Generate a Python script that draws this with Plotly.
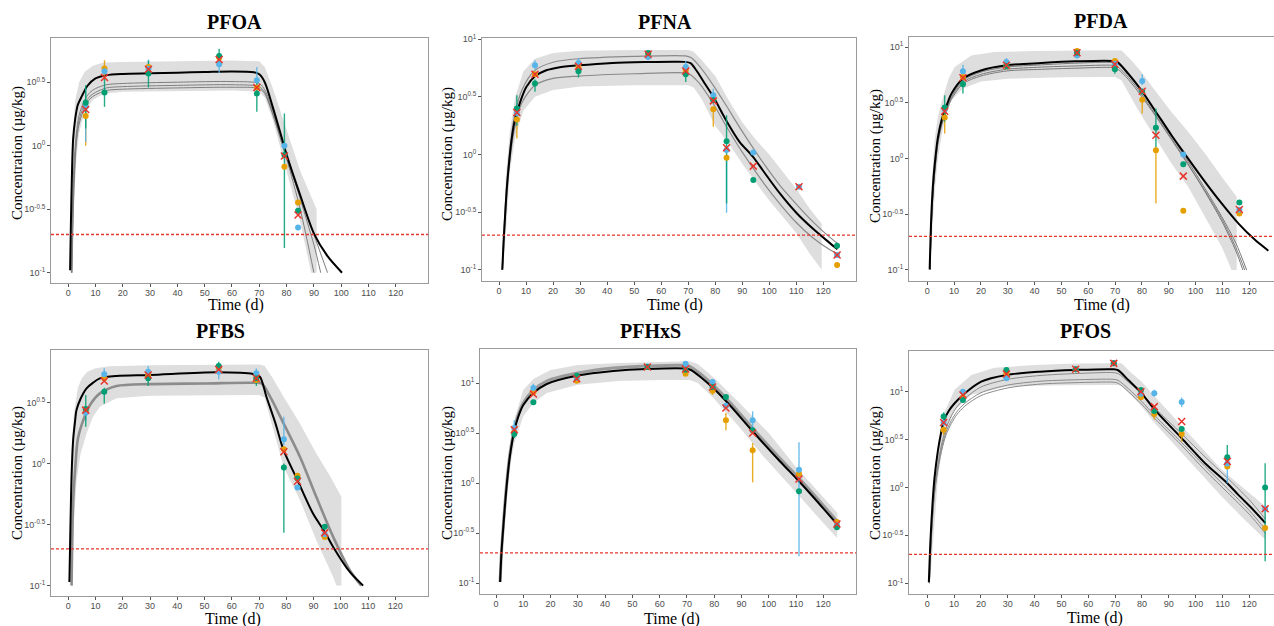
import plotly.graph_objects as go

# ---------------- shared data ----------------
LOQ = 0.2                       # limit of quantification, µg/kg
X_TICKS = list(range(0, 121, 10))
ORANGE, BLUE, GREEN, RED = "#E69F00", "#56B4E9", "#009E73", "#E8352B"
COLORS = {"o": ORANGE, "b": BLUE, "g": GREEN}
NAMES = ["PFOA", "PFNA", "PFDA", "PFBS", "PFHxS", "PFOS"]
# all concentrations below are log10(µg/kg)

# ---------------- PFOA ----------------
PFOA_BLACK_T = [0.7, 1.0, 1.4, 1.8, 2.5, 3.5, 5, 7, 10, 14, 20, 30, 40, 50, 60, 68, 70, 72, 75, 78, 80, 85, 90, 95, 100.3]
PFOA_BLACK = [-0.98, -0.6, -0.2, 0.05, 0.2, 0.32, 0.39, 0.47, 0.53, 0.555, 0.565, 0.57, 0.575, 0.58, 0.585, 0.578, 0.562, 0.5, 0.3, 0.08, -0.07, -0.39, -0.69, -0.87, -1.0]
PFOA_G1_T = [1.2, 1.6, 2, 3, 4, 6, 8, 10, 14, 20, 40, 60, 70, 72, 75, 80, 85, 90]
PFOA_G1 = [-1.0, -0.5, -0.2, 0.1, 0.24, 0.36, 0.42, 0.45, 0.48, 0.49, 0.5, 0.505, 0.49, 0.44, 0.27, -0.1, -0.5, -1.0]
PFOA_G2_T = [1.3, 1.7, 2.1, 3, 4, 6, 8, 10, 14, 20, 40, 60, 70, 72, 75, 80, 85, 90, 92.5]
PFOA_G2 = [-1.0, -0.55, -0.25, 0.06, 0.2, 0.33, 0.39, 0.42, 0.455, 0.465, 0.475, 0.48, 0.465, 0.42, 0.25, -0.08, -0.42, -0.78, -1.0]
PFOA_G3_T = [1.4, 1.8, 2.2, 3, 4, 6, 8, 10, 14, 20, 40, 60, 70, 72, 75, 80, 85, 90, 95]
PFOA_G3 = [-1.0, -0.58, -0.3, 0.02, 0.17, 0.3, 0.37, 0.4, 0.435, 0.445, 0.455, 0.46, 0.45, 0.41, 0.24, -0.1, -0.4, -0.7, -1.0]
PFOA_UP_T = [0.8, 1.5, 2.5, 4, 6, 9, 13, 20, 40, 60, 70, 72, 75, 80, 85, 91]
PFOA_UP = [-1.0, 0.0, 0.35, 0.5, 0.58, 0.63, 0.655, 0.66, 0.665, 0.67, 0.665, 0.62, 0.45, 0.12, -0.2, -0.5]
PFOA_LO_T = [1.5, 2.0, 3, 4, 6, 9, 13, 20, 40, 60, 70, 72, 75, 80, 85, 89, 91]
PFOA_LO = [-1.0, -0.5, -0.1, 0.1, 0.27, 0.36, 0.41, 0.425, 0.43, 0.435, 0.425, 0.38, 0.2, -0.2, -0.6, -1.0, -1.0]
PFOA_DAYS = [6.4, 13.3, 29.4, 55.3, 69.1, 79.2, 84.2]
PFOA_ORANGE = [0.233, 0.607, 0.62, 0.694, 0.458, -0.165, -0.448]
PFOA_BLUE = [0.306, 0.586, 0.605, 0.641, 0.516, 0.0, -0.644]
PFOA_GREEN = [0.338, 0.419, 0.568, 0.707, 0.411, -0.073, -0.513]
PFOA_MEAN = [0.285, 0.537, 0.602, 0.678, 0.458, -0.081, -0.545]
PFOA_BARS = [(6.4, "b", 0.03, 0.45), (6.4, "o", 0.0, 0.4), (6.4, "g", 0.136, 0.476),
             (13.3, "o", 0.55, 0.673), (13.3, "g", 0.306, 0.53),
             (29.4, "b", 0.55, 0.678), (29.4, "g", 0.458, 0.67),
             (55.3, "b", 0.573, 0.70), (55.3, "g", 0.65, 0.764),
             (69.1, "b", 0.43, 0.62), (69.1, "g", 0.267, 0.5),
             (79.2, "g", -0.806, 0.254)]

# ---------------- PFNA ----------------
PFNA_BLACK_T = [1.2, 1.7, 2.2, 2.8, 3.6, 4.6, 5.6, 6.7, 8.5, 10.1, 13.3, 17.5, 22, 29.4, 42, 55, 65, 69, 71, 73, 76, 79.3, 84.2, 89, 94, 98, 104, 110, 116, 122, 125.2]
PFNA_BLACK = [-1.0, -0.75, -0.55, -0.32, -0.1, 0.12, 0.27, 0.37, 0.5, 0.586, 0.678, 0.73, 0.755, 0.773, 0.794, 0.802, 0.805, 0.803, 0.79, 0.73, 0.62, 0.5, 0.29, 0.11, -0.02, -0.15, -0.34, -0.505, -0.64, -0.76, -0.822]
PFNA_G1_T = [1.2, 2.2, 3.6, 5.6, 8.5, 13.3, 20, 29.4, 50, 69, 71, 74, 79.3, 84.2, 90, 98, 104, 110, 116, 122, 125.2]
PFNA_G1 = [-1.0, -0.5, -0.05, 0.32, 0.56, 0.73, 0.8, 0.83, 0.85, 0.855, 0.84, 0.77, 0.6, 0.42, 0.2, -0.08, -0.27, -0.43, -0.58, -0.71, -0.77]
PFNA_G2_T = [1.3, 2.3, 3.7, 5.7, 8.5, 13.3, 20, 29.4, 50, 69, 71, 74, 79.3, 84.2, 90, 98, 104, 110, 116, 122, 125.2]
PFNA_G2 = [-1.0, -0.55, -0.12, 0.22, 0.45, 0.6, 0.66, 0.68, 0.7, 0.707, 0.69, 0.62, 0.44, 0.24, 0.02, -0.25, -0.43, -0.59, -0.72, -0.82, -0.86]
PFNA_UP_T = [1.2, 2.5, 4, 6, 9, 13.3, 20, 30, 50, 70, 72, 75, 80, 85, 90, 95, 100, 105, 110, 115, 119.4]
PFNA_UP = [-0.95, -0.2, 0.2, 0.5, 0.72, 0.83, 0.88, 0.9, 0.905, 0.905, 0.89, 0.82, 0.68, 0.47, 0.28, 0.13, 0.0, -0.15, -0.3, -0.47, -0.6]
PFNA_LO_T = [1.5, 2.5, 4, 6, 9, 13.3, 20, 30, 50, 70, 72, 75, 80, 85, 90, 95, 100, 105, 110, 115, 119.4]
PFNA_LO = [-1.0, -0.7, -0.15, 0.15, 0.38, 0.5, 0.56, 0.59, 0.6, 0.6, 0.58, 0.48, 0.25, 0.095, -0.08, -0.24, -0.4, -0.54, -0.68, -0.86, -1.0]
PFNA_DAYS = [6.6, 13.3, 29.4, 55.2, 69.1, 79.3, 84.2, 94.1, 111.0, 125.1]
PFNA_ORANGE = [0.303, 0.696, 0.765, 0.865, 0.73, 0.392, -0.029, None, None, -0.958]
PFNA_BLUE = [0.36, 0.773, 0.794, 0.846, 0.759, 0.514, 0.038, 0.017, -0.28, -0.872]
PFNA_GREEN = [0.398, 0.615, 0.722, 0.88, 0.696, 0.47, 0.115, -0.222, None, -0.791]
PFNA_MEAN = [0.364, 0.696, 0.765, 0.869, 0.724, 0.465, 0.058, -0.101, -0.28, -0.872]
PFNA_BARS = [(6.6, "g", 0.25, 0.514), (6.6, "o", 0.139, 0.32),
             (13.3, "b", 0.74, 0.817), (13.3, "g", 0.543, 0.65),
             (29.4, "b", 0.77, 0.837), (29.4, "g", 0.667, 0.75),
             (55.2, "g", 0.85, 0.9),
             (69.1, "b", 0.74, 0.81), (69.1, "g", 0.629, 0.72),
             (79.3, "o", 0.24, 0.4), (79.3, "b", 0.5, 0.57),
             (84.2, "b", -0.505, 0.0), (84.2, "g", -0.424, 0.34)]

# ---------------- PFDA ----------------
PFDA_BLACK_T = [0.9, 1.5, 2.1, 2.7, 4.0, 5.5, 6.5, 9, 13.3, 20, 29.5, 42.5, 55, 69.3, 71.1, 74.9, 79.8, 84.8, 91, 95.4, 103.5, 109.7, 115.9, 122.1, 127.1]
PFDA_BLACK = [-0.994, -0.52, -0.25, -0.07, 0.194, 0.358, 0.427, 0.582, 0.716, 0.79, 0.836, 0.857, 0.872, 0.875, 0.86, 0.761, 0.612, 0.433, 0.209, 0.06, -0.209, -0.403, -0.582, -0.73, -0.827]
PFDA_G1_T = [1.0, 1.6, 2.2, 2.8, 4, 5.5, 6.5, 9, 13.3, 20, 29.5, 42.5, 55, 69.3, 71.1, 74.9, 79.8, 84.8, 91, 95.4, 103.5, 109.7, 115, 119]
PFDA_G1 = [-1.0, -0.55, -0.28, -0.1, 0.17, 0.34, 0.41, 0.56, 0.7, 0.775, 0.82, 0.84, 0.855, 0.86, 0.845, 0.75, 0.6, 0.42, 0.2, 0.04, -0.27, -0.52, -0.76, -1.0]
PFDA_G2_T = [1.0, 1.6, 2.2, 2.8, 4, 5.5, 6.5, 9, 13.3, 20, 29.5, 42.5, 55, 69.3, 71.1, 74.9, 79.8, 84.8, 91, 95.4, 103.5, 109.7, 115, 118.3]
PFDA_G2 = [-1.0, -0.58, -0.3, -0.13, 0.14, 0.31, 0.38, 0.53, 0.67, 0.74, 0.785, 0.8, 0.81, 0.815, 0.8, 0.71, 0.56, 0.39, 0.17, 0.01, -0.29, -0.54, -0.8, -1.0]
PFDA_G3_T = [1.0, 1.6, 2.2, 2.8, 4, 5.5, 6.5, 9, 13.3, 20, 29.5, 42.5, 55, 69.3, 71.1, 74.9, 79.8, 84.8, 91, 95.4, 103.5, 109.7, 115, 117.6]
PFDA_G3 = [-1.0, -0.57, -0.29, -0.12, 0.15, 0.32, 0.39, 0.545, 0.685, 0.755, 0.8, 0.82, 0.83, 0.835, 0.82, 0.73, 0.58, 0.4, 0.18, 0.02, -0.3, -0.56, -0.83, -1.0]
PFDA_UP_T = [0.8, 1.5, 2.7, 4, 5.5, 8, 10.2, 16.4, 25, 40, 60, 72.4, 76.1, 79.8, 84.8, 91, 97.2, 103.5, 109.7, 115.3]
PFDA_UP = [-0.99, -0.3, 0.164, 0.38, 0.52, 0.72, 0.82, 0.925, 0.955, 0.965, 0.97, 0.97, 0.88, 0.776, 0.612, 0.418, 0.24, 0.045, -0.164, -0.343]
PFDA_LO_T = [1.2, 2.0, 3, 4, 5.5, 7, 9, 13.3, 20, 30, 50, 70, 72.4, 78.6, 84.8, 91, 97.2, 103.5, 109.7, 113.4, 115.3]
PFDA_LO = [-1.0, -0.6, -0.25, 0.0, 0.224, 0.4, 0.522, 0.627, 0.69, 0.715, 0.73, 0.731, 0.7, 0.433, 0.194, -0.045, -0.254, -0.522, -0.791, -1.0, -1.0]
PFDA_DAYS = [6.5, 13.3, 29.5, 55.8, 69.9, 80.1, 85.2, 95.4, 116.3]
PFDA_ORANGE = [0.367, 0.731, 0.83, 0.964, 0.875, 0.528, 0.075, -0.469, -0.493]
PFDA_BLUE = [0.44, 0.782, 0.866, 0.925, 0.85, 0.696, None, 0.036, -0.46]
PFDA_GREEN = [0.457, 0.666, 0.83, 0.949, 0.8, 0.6, 0.275, -0.051, -0.394]
PFDA_MEAN = [0.424, 0.725, 0.836, 0.949, 0.845, 0.603, 0.209, -0.158, -0.457]
PFDA_BARS = [(6.5, "g", 0.33, 0.567), (6.5, "o", 0.224, 0.4),
             (13.3, "b", 0.76, 0.84), (13.3, "g", 0.582, 0.7),
             (29.5, "b", 0.84, 0.9), (55.8, "o", 0.93, 0.99),
             (69.9, "o", 0.85, 0.9), (69.9, "g", 0.76, 0.83),
             (80.1, "o", 0.403, 0.55), (80.1, "b", 0.66, 0.755),
             (85.2, "o", -0.403, 0.1), (85.2, "g", 0.1, 0.448)]

# ---------------- PFBS ----------------
PFBS_BLACK_T = [0.4, 0.8, 1.2, 1.8, 2.5, 3.0, 4.5, 6.7, 9, 11.6, 17.7, 30, 54.4, 67.8, 70.3, 72.7, 76, 79, 84.1, 89.8, 94.1, 97.2, 103.3, 108.2]
PFBS_BLACK = [-0.97, -0.5, -0.1, 0.2, 0.35, 0.437, 0.53, 0.615, 0.66, 0.697, 0.716, 0.724, 0.746, 0.732, 0.71, 0.546, 0.33, 0.109, -0.137, -0.41, -0.56, -0.683, -0.888, -1.0]
PFBS_G1_T = [1.2, 1.8, 2.5, 3.5, 5.5, 8, 11.6, 17.7, 30, 50, 67.8, 70.9, 74, 79, 85, 91, 97.2, 103.3, 107.5]
PFBS_G1 = [-1.0, -0.3, -0.05, 0.2, 0.355, 0.48, 0.574, 0.634, 0.65, 0.655, 0.661, 0.655, 0.55, 0.328, 0.055, -0.273, -0.601, -0.874, -1.0]
PFBS_UP_T = [0.5, 1.0, 2, 3.5, 5, 7, 10, 15, 30, 55, 70, 72, 75, 79, 85, 91, 96, 100.2]
PFBS_UP = [-0.9, 0.0, 0.4, 0.62, 0.7, 0.75, 0.78, 0.795, 0.805, 0.81, 0.81, 0.8, 0.7, 0.546, 0.328, 0.082, -0.1, -0.273]
PFBS_LO_T = [1.2, 2, 3, 4.5, 6.7, 9, 11.6, 17.7, 30, 50, 70, 72, 75, 79, 85, 91, 97.2, 98.4, 100.2]
PFBS_LO = [-1.0, -0.5, -0.15, 0.08, 0.246, 0.38, 0.464, 0.533, 0.555, 0.56, 0.56, 0.54, 0.3, -0.027, -0.3, -0.628, -0.93, -1.0, -1.0]
PFBS_DAYS = [6.4, 13.2, 29.3, 55.2, 69.0, 79.1, 84.1, 94.1]
PFBS_ORANGE = [0.43, 0.697, 0.72, 0.765, 0.683, 0.117, -0.101, -0.601]
PFBS_BLUE = [0.415, 0.73, 0.751, 0.751, 0.738, 0.199, -0.197, -0.58]
PFBS_GREEN = [0.445, 0.587, 0.697, 0.798, 0.697, -0.033, -0.123, -0.519]
PFBS_MEAN = [0.437, 0.675, 0.724, 0.77, 0.697, 0.096, -0.145, -0.568]
PFBS_BARS = [(6.4, "b", 0.35, 0.45), (6.4, "g", 0.3, 0.56),
             (13.2, "b", 0.7, 0.779), (13.2, "g", 0.492, 0.62),
             (29.3, "b", 0.72, 0.798), (29.3, "g", 0.634, 0.72),
             (55.2, "b", 0.69, 0.77), (55.2, "g", 0.77, 0.833),
             (69.0, "b", 0.7, 0.779), (69.0, "g", 0.634, 0.71),
             (79.1, "b", 0.15, 0.383), (79.1, "g", -0.568, 0.0)]

# ---------------- PFHxS ----------------
PFHXS_BLACK_T = [1.5, 2.0, 2.7, 3.9, 5.1, 6.7, 8, 10, 13.7, 18.6, 30, 43, 55, 70, 71.5, 75, 80, 86, 94, 104, 111, 116, 125]
PFHXS_BLACK = [-0.99, -0.7, -0.43, -0.03, 0.27, 0.52, 0.65, 0.78, 0.9, 0.99, 1.075, 1.12, 1.14, 1.143, 1.13, 1.06, 0.94, 0.77, 0.52, 0.22, 0.02, -0.13, -0.41]
PFHXS_G1 = [-0.99, -0.69, -0.42, -0.01, 0.29, 0.54, 0.67, 0.8, 0.93, 1.02, 1.1, 1.15, 1.17, 1.175, 1.16, 1.09, 0.97, 0.8, 0.55, 0.25, 0.05, -0.1, -0.38]
PFHXS_UP_T = [1.5, 2.5, 4, 5.5, 7, 10, 13.7, 20, 30, 45, 60, 71, 74, 80, 90, 100, 110, 120, 125.2]
PFHXS_UP = [-0.9, -0.3, 0.15, 0.45, 0.66, 0.93, 1.04, 1.13, 1.18, 1.2, 1.21, 1.217, 1.19, 1.05, 0.78, 0.5, 0.16, -0.15, -0.3]
PFHXS_LO_T = [1.8, 2.5, 4, 5.5, 6.7, 10, 13.7, 18.6, 30, 45, 60, 71, 74, 79.7, 89.5, 98, 110.2, 120, 125.1]
PFHXS_LO = [-1.0, -0.65, -0.15, 0.22, 0.4, 0.667, 0.8, 0.9, 0.983, 1.02, 1.03, 1.03, 1.0, 0.85, 0.55, 0.267, -0.1, -0.4, -0.55]
PFHXS_DAYS = [6.7, 13.7, 29.6, 55.5, 69.5, 79.4, 84.3, 94.1, 111.1, 125.0]
PFHXS_ORANGE = [0.51, 0.907, 1.023, 1.16, 1.093, 0.923, 0.627, 0.327, 0.093, -0.39]
PFHXS_BLUE = [0.55, 0.95, 1.05, 1.165, 1.193, 1.01, 0.773, 0.627, 0.133, -0.42]
PFHXS_GREEN = [0.49, 0.807, 1.073, 1.16, 1.133, 0.96, 0.86, 0.527, -0.083, -0.443]
PFHXS_MEAN = [0.533, 0.89, 1.043, 1.16, 1.14, 0.96, 0.75, 0.5, 0.04, -0.41]
PFHXS_BARS = [(6.7, "b", 0.45, 0.627), (6.7, "g", 0.45, 0.55),
              (13.7, "b", 0.9, 0.993), (13.7, "g", 0.78, 0.83),
              (79.4, "o", 0.88, 0.95), (84.3, "o", 0.527, 0.7),
              (94.1, "o", 0.007, 0.4), (94.1, "b", 0.55, 0.717),
              (111.1, "b", -0.733, 0.407)]

# ---------------- PFOS ----------------
PFOS_BLACK_T = [0.6, 1.2, 2.0, 2.7, 4, 5, 6.2, 8, 10.2, 13.3, 20.1, 29.5, 42, 55, 69.3, 71.1, 75, 79.9, 84.8, 94.8, 103.5, 111.8, 115.9, 121, 126]
PFOS_BLACK = [-0.99, -0.55, -0.15, 0.1, 0.39, 0.55, 0.7, 0.8, 0.88, 0.967, 1.106, 1.176, 1.21, 1.228, 1.235, 1.225, 1.12, 0.984, 0.81, 0.515, 0.254, 0.045, -0.077, -0.22, -0.372]
PFOS_G_T = [0.8, 1.5, 2.3, 3, 4.3, 5.5, 7, 9, 11, 14, 20, 30, 42, 55, 69.3, 71.1, 75, 79.9, 84.8, 94.8, 103.5, 111.8, 120, 126]
PFOS_G1 = [-1.0, -0.5, -0.15, 0.05, 0.3, 0.47, 0.62, 0.75, 0.84, 0.93, 1.05, 1.13, 1.17, 1.19, 1.2, 1.19, 1.1, 0.98, 0.83, 0.56, 0.32, 0.1, -0.13, -0.33]
PFOS_G2 = [-1.0, -0.52, -0.18, 0.02, 0.26, 0.43, 0.58, 0.7, 0.79, 0.88, 0.99, 1.07, 1.11, 1.125, 1.13, 1.12, 1.03, 0.9, 0.75, 0.47, 0.22, -0.01, -0.24, -0.44]
PFOS_G3 = [-1.0, -0.55, -0.2, 0.0, 0.24, 0.4, 0.55, 0.67, 0.76, 0.85, 0.96, 1.04, 1.08, 1.095, 1.1, 1.09, 1.0, 0.87, 0.72, 0.44, 0.18, -0.05, -0.28, -0.48]
PFOS_UP_T = [0.7, 1.5, 2.5, 4, 6.2, 10.2, 16.4, 25, 40, 55, 72.4, 76, 79.9, 84.8, 97.3, 109.7, 118, 126]
PFOS_UP = [-0.95, -0.35, 0.1, 0.463, 0.776, 1.02, 1.176, 1.25, 1.28, 1.295, 1.297, 1.2, 1.106, 0.95, 0.567, 0.184, -0.01, -0.2]
PFOS_LO_T = [1.0, 1.8, 2.7, 4, 6.2, 10.2, 16.4, 29.5, 50, 70, 72.4, 76, 79.9, 84.8, 97.3, 109.7, 118, 126]
PFOS_LO = [-1.0, -0.7, -0.4, 0.1, 0.532, 0.81, 0.967, 1.054, 1.068, 1.07, 1.065, 0.96, 0.845, 0.671, 0.289, -0.094, -0.33, -0.546]
PFOS_DAYS = [6.1, 13.3, 29.5, 55.3, 69.5, 79.6, 84.6, 94.8, 111.8, 125.9]
PFOS_ORANGE = [0.602, 0.94, 1.19, 1.235, 1.297, 0.943, 0.769, 0.56, 0.219, -0.424]
PFOS_BLUE = [0.68, 1.0, 1.141, 1.235, 1.297, 0.98, 0.984, 0.894, 0.25, -0.223]
PFOS_GREEN = [0.741, 0.915, 1.228, 1.235, 1.297, 1.019, 0.8, 0.612, 0.317, 0.0]
PFOS_MEAN = [0.678, 0.967, 1.186, 1.235, 1.297, 1.0, 0.845, 0.689, 0.271, -0.223]
PFOS_BARS = [(6.1, "g", 0.68, 0.785), (6.1, "o", 0.55, 0.62),
             (84.6, "o", 0.71, 0.8), (84.6, "b", 0.95, 1.02),
             (94.8, "o", 0.48, 0.6), (94.8, "b", 0.84, 0.94),
             (111.8, "g", 0.25, 0.445), (111.8, "b", 0.045, 0.27),
             (125.9, "g", -0.772, 0.254)]

PANELS = [
    dict(black=(PFOA_BLACK_T, PFOA_BLACK), grays=[(PFOA_G1_T, PFOA_G1), (PFOA_G2_T, PFOA_G2), (PFOA_G3_T, PFOA_G3)],
         up=(PFOA_UP_T, PFOA_UP), lo=(PFOA_LO_T, PFOA_LO), days=PFOA_DAYS,
         pts=(PFOA_ORANGE, PFOA_BLUE, PFOA_GREEN), mean=PFOA_MEAN, bars=PFOA_BARS, yt=[-1, -0.5, 0, 0.5]),
    dict(black=(PFNA_BLACK_T, PFNA_BLACK), grays=[(PFNA_G1_T, PFNA_G1), (PFNA_G2_T, PFNA_G2)],
         up=(PFNA_UP_T, PFNA_UP), lo=(PFNA_LO_T, PFNA_LO), days=PFNA_DAYS,
         pts=(PFNA_ORANGE, PFNA_BLUE, PFNA_GREEN), mean=PFNA_MEAN, bars=PFNA_BARS, yt=[-1, -0.5, 0, 0.5, 1]),
    dict(black=(PFDA_BLACK_T, PFDA_BLACK), grays=[(PFDA_G1_T, PFDA_G1), (PFDA_G2_T, PFDA_G2), (PFDA_G3_T, PFDA_G3)],
         up=(PFDA_UP_T, PFDA_UP), lo=(PFDA_LO_T, PFDA_LO), days=PFDA_DAYS,
         pts=(PFDA_ORANGE, PFDA_BLUE, PFDA_GREEN), mean=PFDA_MEAN, bars=PFDA_BARS, yt=[-1, -0.5, 0, 0.5, 1]),
    dict(black=(PFBS_BLACK_T, PFBS_BLACK), grays=[(PFBS_G1_T, PFBS_G1)],
         up=(PFBS_UP_T, PFBS_UP), lo=(PFBS_LO_T, PFBS_LO), days=PFBS_DAYS,
         pts=(PFBS_ORANGE, PFBS_BLUE, PFBS_GREEN), mean=PFBS_MEAN, bars=PFBS_BARS, yt=[-1, -0.5, 0, 0.5]),
    dict(black=(PFHXS_BLACK_T, PFHXS_BLACK), grays=[(PFHXS_BLACK_T, PFHXS_G1)],
         up=(PFHXS_UP_T, PFHXS_UP), lo=(PFHXS_LO_T, PFHXS_LO), days=PFHXS_DAYS,
         pts=(PFHXS_ORANGE, PFHXS_BLUE, PFHXS_GREEN), mean=PFHXS_MEAN, bars=PFHXS_BARS, yt=[-1, -0.5, 0, 0.5, 1]),
    dict(black=(PFOS_BLACK_T, PFOS_BLACK), grays=[(PFOS_G_T, PFOS_G1), (PFOS_G_T, PFOS_G2), (PFOS_G_T, PFOS_G3)],
         up=(PFOS_UP_T, PFOS_UP), lo=(PFOS_LO_T, PFOS_LO), days=PFOS_DAYS,
         pts=(PFOS_ORANGE, PFOS_BLUE, PFOS_GREEN), mean=PFOS_MEAN, bars=PFOS_BARS, yt=[-1, -0.5, 0, 0.5, 1]),
]

# ---------------- layout geometry (pixels of the 1274x626 page) ----------------
W, H = 1274, 626
BOXES = [  # x0, x1, y_top, y_bottom, x-range, y-range (log10)
    (51, 428, 38, 283, [-6.3, 131.8], [-1.081, 0.848]),
    (482, 856, 38, 281, [-6.3, 132.1], [-1.097, 1.01]),
    (909, 1274, 37, 281, [-6.8, 129.2], [-1.099, 1.09]),
    (51, 428, 350, 596, [-6.35, 132], [-1.085, 0.929]),
    (480, 856, 349, 594, [-5.87, 132], [-1.11, 1.34]),
    (909, 1274, 351, 594, [-6.8, 129.2], [-1.113, 1.426]),
]
TITLE_XY = [(235, 22), (665, 22), (1101, 21), (220, 331), (650, 331), (1085, 331)]
XLAB_XY = [(236, 305), (675, 305), (1102, 305), (233, 619), (672, 619), (1095, 618)]
YLAB_XY = [(17, 153), (448, 154), (875, 156), (17, 473), (447, 473), (875, 473)]
GRAY_W = [1, 1.2, 1, 2.6, 3.0, 1]
GRAY_C = ["#7f7f7f", "#8a8a8a", "#7a7a7a", "#8c8c8c", "#9a9a9a", "#8a8a8a"]


def conc(vals):
    return [None if v is None else 10 ** v for v in vals]


def tick_text(v):
    return "10<sup>%g</sup>" % v


def px(x, y):
    return x / W, 1 - y / H


fig = go.Figure()
layout = dict(width=W, height=H, margin=dict(l=0, r=0, t=0, b=0, autoexpand=False),
              paper_bgcolor="white", plot_bgcolor="white", showlegend=False,
              annotations=[], shapes=[], template="none")

for i, (p, box) in enumerate(zip(PANELS, BOXES)):
    n = "" if i == 0 else str(i + 1)
    xa, ya = "x" + n, "y" + n
    x0, x1, yt_, yb, xr, yr = box
    common = dict(ticks="outside", ticklen=3, tickwidth=1, tickcolor="#555",
                  tickfont=dict(family="Liberation Sans", size=9, color="#4D4D4D"),
                  showgrid=False, zeroline=False, showline=True, linecolor="#9a9a9a",
                  linewidth=1, mirror=True, automargin=False, tickmode="array")
    layout["xaxis" + n] = dict(domain=[x0 / W, min(x1 / W, 1.0)], range=xr, anchor=ya,
                               tickvals=X_TICKS, ticklabelstandoff=-2, **common)
    layout["yaxis" + n] = dict(domain=[1 - yb / H, 1 - yt_ / H], range=yr, type="log", anchor=xa,
                               tickvals=[10 ** v for v in p["yt"]],
                               ticktext=[tick_text(v) for v in p["yt"]], **common)

    # uncertainty band
    ut, uv = p["up"]
    lt, lv = p["lo"]
    fig.add_trace(go.Scatter(x=list(ut) + list(lt)[::-1], y=conc(list(uv) + list(lv)[::-1]),
                             fill="toself", fillcolor="#DEDEDE", line=dict(width=0),
                             mode="lines", xaxis=xa, yaxis=ya, hoverinfo="skip"))
    # individual predictions
    for gt, gv in p["grays"]:
        fig.add_trace(go.Scatter(x=gt, y=conc(gv), mode="lines", xaxis=xa, yaxis=ya,
                                 line=dict(color=GRAY_C[i], width=GRAY_W[i], shape="spline", smoothing=0.8)))
    # mean prediction
    bt, bv = p["black"]
    fig.add_trace(go.Scatter(x=bt, y=conc(bv), mode="lines", xaxis=xa, yaxis=ya,
                             line=dict(color="black", width=2, shape="spline", smoothing=0.8)))
    # LOQ line
    layout["shapes"].append(dict(type="line", xref=xa + " domain", yref=ya, x0=0, x1=1, y0=LOQ, y1=LOQ,
                                 layer="above", line=dict(color=RED, width=1.4, dash="3px,2px")))
    # error bars
    for key in ["o", "b", "g"]:
        xs, ys = [], []
        for d, k, lo, hi in p["bars"]:
            if k == key:
                xs += [d, d, None]
                ys += [10 ** lo, 10 ** hi, None]
        if xs:
            fig.add_trace(go.Scatter(x=xs, y=ys, mode="lines", xaxis=xa, yaxis=ya,
                                     line=dict(color=COLORS[key], width=1.4), opacity=0.85))
    # observations
    for vals, col in zip(p["pts"], [ORANGE, BLUE, GREEN]):
        fig.add_trace(go.Scatter(x=p["days"], y=conc(vals), mode="markers", xaxis=xa, yaxis=ya,
                                 marker=dict(color=col, size=6, line=dict(width=0))))
    fig.add_trace(go.Scatter(x=p["days"], y=conc(p["mean"]), mode="markers", xaxis=xa, yaxis=ya,
                             marker=dict(symbol="x-thin", size=7, line=dict(color=RED, width=1.5))))

    # texts
    tx, ty = px(*TITLE_XY[i])
    layout["annotations"].append(dict(text="<b>%s</b>" % NAMES[i], xref="paper", yref="paper",
                                      x=tx, y=ty, xanchor="center", yanchor="middle", showarrow=False,
                                      font=dict(family="Liberation Serif", size=20, color="black")))
    tx, ty = px(*XLAB_XY[i])
    layout["annotations"].append(dict(text="Time (d)", xref="paper", yref="paper",
                                      x=tx, y=ty, xanchor="center", yanchor="middle", showarrow=False,
                                      font=dict(family="Liberation Serif", size=16, color="black")))
    tx, ty = px(*YLAB_XY[i])
    layout["annotations"].append(dict(text="Concentration (µg/kg)", xref="paper", yref="paper",
                                      x=tx, y=ty, xanchor="center", yanchor="middle", showarrow=False,
                                      textangle=-90,
                                      font=dict(family="Liberation Serif", size=15, color="black")))

fig.update_layout(**layout)
fig.write_html("out.html", config={"displayModeBar": False},
               post_script="document.body.style.margin='0';document.body.style.overflow='hidden';")
